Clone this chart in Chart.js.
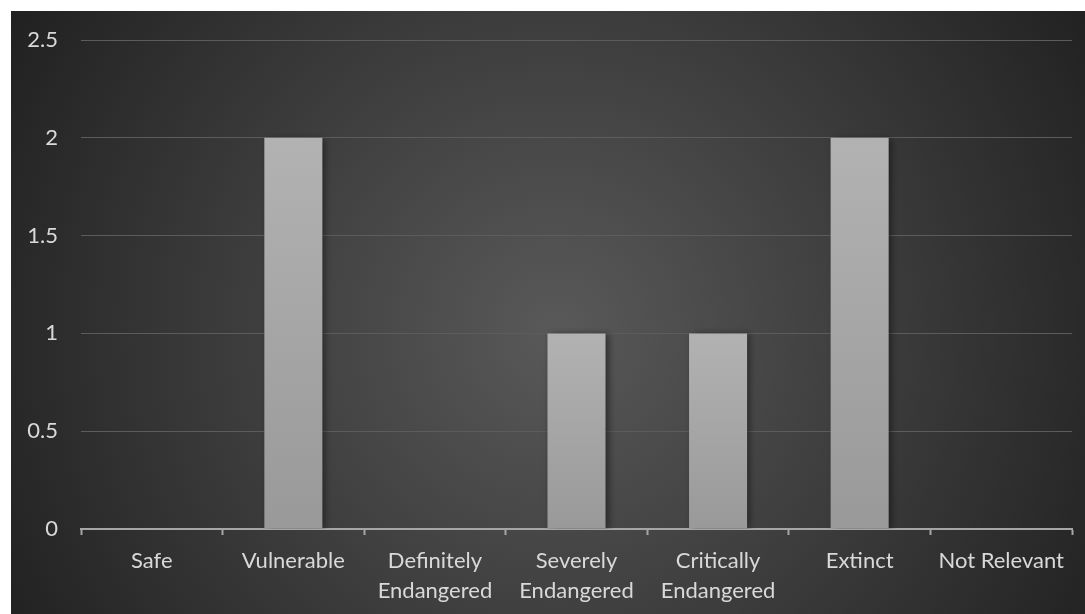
<!DOCTYPE html>
<html>
<head>
<meta charset="utf-8">
<script src="https://cdn.jsdelivr.net/npm/chart.js@4"></script>
<style>
  html,body{margin:0;padding:0;background:#fff;}
  #wrap{position:absolute;left:11px;top:11px;width:1074px;height:603px;}
</style>
</head>
<body>
<div id="wrap"><canvas id="chart" width="1074" height="603"></canvas></div>
<script>
// DATA
const categories = [
  "Safe", "Vulnerable", ["Definitely", "Endangered"], ["Severely", "Endangered"],
  ["Critically", "Endangered"], "Extinct", "Not Relevant"
];
const counts = [0, 2, 0, 1, 1, 2, 0];
const yTicks = [0, 0.5, 1, 1.5, 2, 2.5];

const textColor = "#d9d9d9";
const font = {family: "Lato, 'Open Sans', sans-serif", size: 22};

// radial dark background
const bgPlugin = {
  id: "bg",
  beforeDraw(c){
    const ctx = c.ctx, w = c.width, h = c.height;
    const g = ctx.createRadialGradient(545, 320, 0, 545, 320, 650);
    g.addColorStop(0, "#595959");
    g.addColorStop(1, "#1f1f1f");
    ctx.save();
    ctx.fillStyle = g;
    ctx.fillRect(0, 0, w, h);
    ctx.restore();
  }
};

// bar shadow
const shadowPlugin = {
  id: "shadow",
  beforeDatasetDraw(c){
    const ctx = c.ctx;
    ctx.save();
    ctx.shadowColor = "rgba(0,0,0,0.45)";
    ctx.shadowBlur = 7;
    ctx.shadowOffsetX = 3;
    ctx.shadowOffsetY = 1;
  },
  afterDatasetDraw(c){
    c.ctx.restore();
  }
};

function barFill(ctx){
  const c = ctx.chart;
  if(!c.chartArea) return "#a8a8a8";
  const y = c.scales.y;
  const v = counts[ctx.dataIndex] || 0;
  const top = y.getPixelForValue(v), bottom = y.getPixelForValue(0);
  if(bottom - top < 1) return "#a8a8a8";
  const g = c.ctx.createLinearGradient(0, top, 0, bottom);
  g.addColorStop(0, "#b2b2b2");
  g.addColorStop(1, "#999999");
  return g;
}

new Chart(document.getElementById("chart"), {
  type: "bar",
  data: {
    labels: categories,
    datasets: [{
      data: counts,
      backgroundColor: barFill,
      borderWidth: 0,
      barPercentage: 0.41,
      categoryPercentage: 1
    }]
  },
  plugins: [bgPlugin, shadowPlugin],
  options: {
    responsive: false,
    animation: false,
    layout: {padding: {top: 29, right: 13, left: 0, bottom: 0}},
    plugins: {legend: {display: false}, tooltip: {enabled: false}},
    scales: {
      x: {
        offset: true,
        grid: {
          offset: true, drawOnChartArea: false, drawTicks: true,
          tickLength: 6, tickWidth: 2, tickColor: "#a6a6a6"
        },
        border: {color: "#a6a6a6", width: 2},
        ticks: {color: textColor, font: {...font, lineHeight: 1.36}, maxRotation: 0, autoSkip: false, padding: 11},
        afterFit(s){ s.height = 85; }
      },
      y: {
        min: 0, max: 2.5,
        afterBuildTicks(s){ s.ticks = yTicks.map(v => ({value: v})); },
        grid: {color: "#5c5c5c", lineWidth: 1, drawTicks: true, tickLength: 20, tickColor: "transparent"},
        border: {display: false},
        ticks: {color: textColor, font, padding: 3, callback: v => String(v)},
        afterFit(s){ s.width = 70; }
      }
    }
  }
});
</script>
</body>
</html>
